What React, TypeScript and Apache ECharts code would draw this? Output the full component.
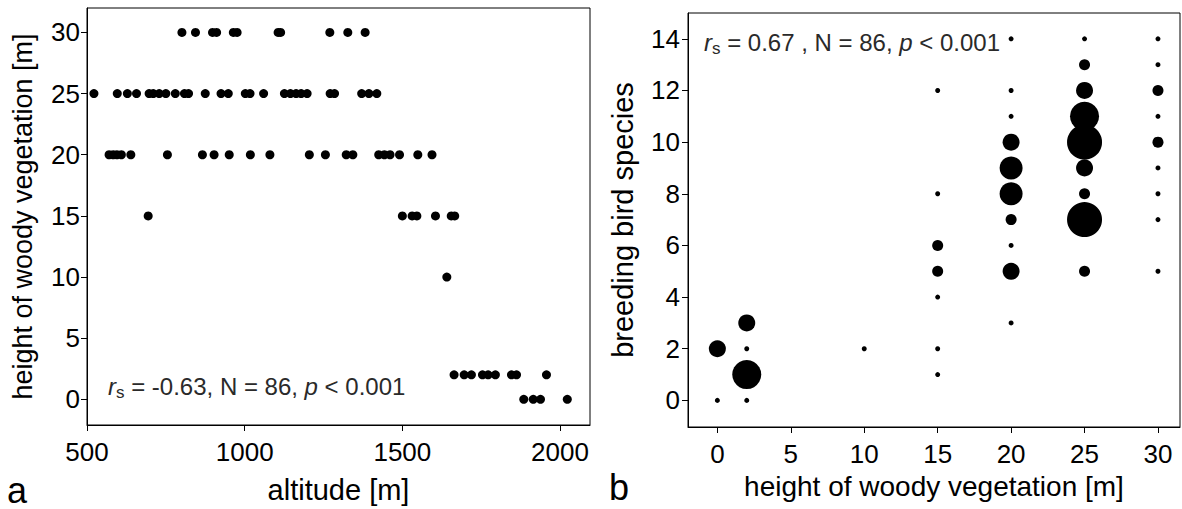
import React, { useEffect, useRef } from "react";
import * as echarts from "echarts";

// ---- Panel a: altitude vs. height of woody vegetation ----
const alt30 = [801, 844, 898, 911, 964, 976, 1106, 1114, 1270, 1327, 1382];
const alt25 = [522, 596, 628, 657, 697, 710, 729, 750, 780, 809, 822, 875, 925, 948, 1002, 1017, 1060, 1126, 1145, 1163, 1179, 1198, 1271, 1285, 1371, 1394, 1419];
const alt20 = [570, 583, 595, 609, 639, 755, 866, 903, 951, 1018, 1080, 1205, 1256, 1322, 1343, 1425, 1443, 1461, 1491, 1549, 1594];
const alt15 = [694, 1500, 1531, 1546, 1605, 1655, 1666];
const alt10 = [1641];
const alt2 = [1664, 1696, 1719, 1754, 1772, 1795, 1846, 1862, 1957];
const alt0 = [1885, 1915, 1938, 2023];
const altGroups: [number, number[]][] = [
  [30, alt30], [25, alt25], [20, alt20], [15, alt15], [10, alt10], [2, alt2], [0, alt0],
];
const altTicks = [500, 1000, 1500, 2000];
const heightTicksA = [0, 5, 10, 15, 20, 25, 30];

// ---- Panel b: height of woody vegetation vs. breeding bird species ----
const vegHeight = [0, 0, 2, 2, 2, 2, 10, 15, 15, 15, 15, 15, 15, 15, 20, 20, 20, 20, 20, 20, 20, 20, 20, 20, 25, 25, 25, 25, 25, 25, 25, 25, 25, 30, 30, 30, 30, 30, 30, 30, 30, 30];
const birdSpecies = [0, 2, 0, 1, 2, 3, 2, 1, 2, 4, 5, 6, 8, 12, 3, 5, 6, 7, 8, 9, 10, 11, 12, 14, 5, 7, 8, 9, 10, 11, 12, 13, 14, 5, 7, 8, 9, 10, 11, 12, 13, 14];
const siteCount = [1, 3, 1, 5, 1, 3, 1, 1, 1, 1, 2, 2, 1, 1, 1, 3, 1, 2, 4, 4, 3, 1, 1, 1, 2, 6, 2, 3, 6, 5, 3, 2, 1, 1, 1, 1, 1, 2, 1, 2, 1, 1];
const heightTicksB = [0, 5, 10, 15, 20, 25, 30];
const speciesTicks = [0, 2, 4, 6, 8, 10, 12, 14];

const FONT = "'Liberation Sans', Arial, sans-serif";
const TXT = "#000";
const ANN = "#2a2a2a";

const leftData: number[][] = [];
altGroups.forEach(([h, arr]) => arr.forEach((a) => leftData.push([a, h])));
const rightData = vegHeight.map((x, i) => [x, birdSpecies[i], siteCount[i]]);

const annRich = {
  i: { fontStyle: "italic", fontSize: 24, color: ANN, fontFamily: FONT, lineHeight: 30 },
  s: { fontSize: 17, color: ANN, fontFamily: FONT, lineHeight: 17, verticalAlign: "bottom" },
  n: { fontSize: 24, color: ANN, fontFamily: FONT, lineHeight: 30 },
};

function axisCommon(ticks: number[], margin: number) {
  return {
    type: "value",
    splitLine: { show: false },
    axisLine: { show: true, onZero: false, lineStyle: { color: "#000", width: 1 } },
    axisTick: { show: true, inside: false, length: 6, customValues: ticks, lineStyle: { color: "#000", width: 1 } },
    axisLabel: {
      customValues: ticks, fontSize: 26, color: TXT, fontFamily: FONT, margin,
      formatter: (v: number) => String(v),
    },
  };
}

export default function App() {
  const ref = useRef<HTMLDivElement>(null);
  useEffect(() => {
    if (!ref.current) return;
    const chart = echarts.init(ref.current, undefined, { renderer: "svg" });
    const option: any = {
      animation: false,
      backgroundColor: "#fff",
      textStyle: { fontFamily: FONT },
      title: [
        { text: "a", left: 7, top: 472, padding: 0, textStyle: { fontSize: 36, fontWeight: "normal", color: TXT, fontFamily: FONT, lineHeight: 36 } },
        { text: "b", left: 609, top: 469, padding: 0, textStyle: { fontSize: 36, fontWeight: "normal", color: TXT, fontFamily: FONT, lineHeight: 36 } },
        {
          text: "{i|r}{s|s}{n| = -0.63, N = 86, }{i|p}{n| < 0.001}",
          left: 108, top: 371, padding: 0,
          textStyle: { rich: annRich, fontSize: 24, fontWeight: "normal" },
        },
        {
          text: "{i|r}{s|s}{n| = 0.67 , N = 86, }{i|p}{n| < 0.001}",
          left: 704, top: 27, padding: 0,
          textStyle: { rich: annRich, fontSize: 24, fontWeight: "normal" },
        },
      ],
      grid: [
        { left: 87, top: 8, width: 503, height: 418, show: true, borderColor: "#000", borderWidth: 1, backgroundColor: "transparent" },
        { left: 688, top: 13, width: 492, height: 414, show: true, borderColor: "#000", borderWidth: 1, backgroundColor: "transparent" },
      ],
      xAxis: [
        {
          ...axisCommon(altTicks, 14), gridIndex: 0, min: 500, max: 2095,
          name: "altitude [m]", nameLocation: "middle", nameGap: 50,
          nameTextStyle: { fontSize: 29, color: TXT, fontFamily: FONT },
        },
        {
          ...axisCommon(heightTicksB, 14), gridIndex: 1, min: -2, max: 31.5,
          name: "height of woody vegetation [m]", nameLocation: "middle", nameGap: 45,
          nameTextStyle: { fontSize: 28, color: TXT, fontFamily: FONT },
        },
      ],
      yAxis: [
        {
          ...axisCommon(heightTicksA, 7), gridIndex: 0, min: -2.1, max: 32,
          name: "height of woody vegetation [m]", nameLocation: "middle", nameGap: 51,
          nameTextStyle: { fontSize: 27, color: TXT, fontFamily: FONT },
        },
        {
          ...axisCommon(speciesTicks, 8), gridIndex: 1, min: -1.03, max: 15,
          name: "breeding bird species", nameLocation: "middle", nameGap: 51,
          nameTextStyle: { fontSize: 29, color: TXT, fontFamily: FONT },
        },
      ],
      series: [
        {
          type: "scatter", xAxisIndex: 0, yAxisIndex: 0, data: leftData,
          symbol: "circle", symbolSize: 9, itemStyle: { color: "#000", opacity: 1 },
        },
        {
          type: "scatter", xAxisIndex: 1, yAxisIndex: 1, data: rightData,
          symbol: "circle", symbolSize: (v: number[]) => 6 * v[2] - 1, itemStyle: { color: "#000", opacity: 1 },
        },
      ],
    };
    chart.setOption(option);
    return () => chart.dispose();
  }, []);
  return (
    <div
      ref={ref}
      style={{ position: "absolute", left: 0, top: 0, width: 1182, height: 509, background: "#fff" }}
    />
  );
}
